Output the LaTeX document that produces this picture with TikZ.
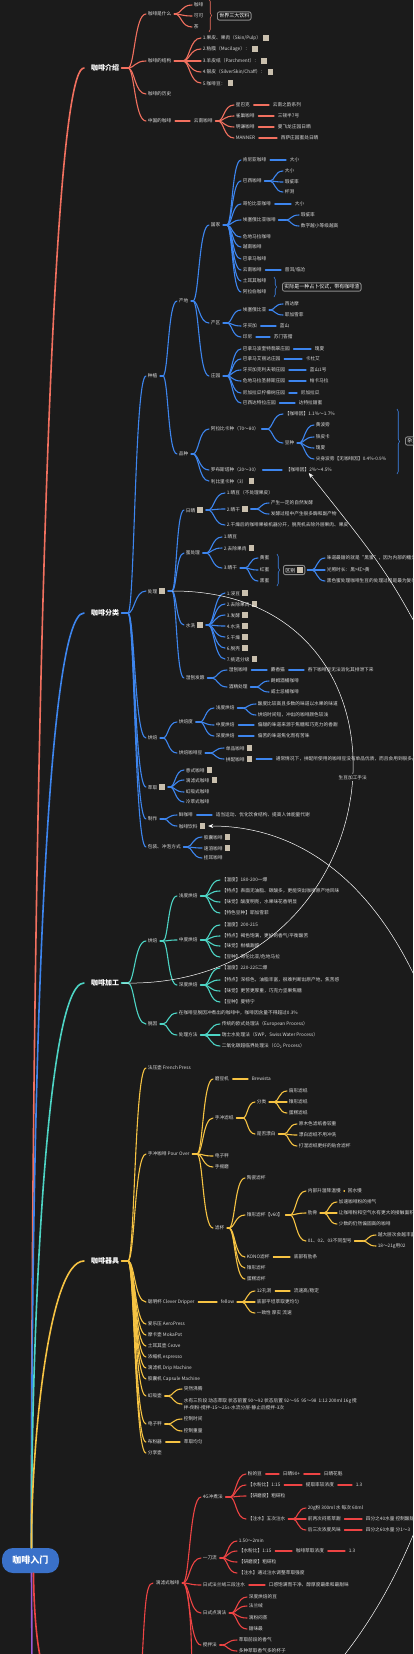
\documentclass[tikz,border=0pt]{standalone}
\usepackage{fontspec}
\setmainfont{Noto Sans CJK SC}
\usetikzlibrary{positioning,arrows.meta,decorations.pathreplacing}
\definecolor{bg}{HTML}{1B1B1B}
\definecolor{salm}{HTML}{F2705F}
\definecolor{blu}{HTML}{3D85EE}
\definecolor{tea}{HTML}{4DD4C4}
\definecolor{yel}{HTML}{F6C343}
\definecolor{rd}{HTML}{EE4444}
\definecolor{pur}{HTML}{9B5BD6}
\definecolor{txtc}{HTML}{DADADA}
\definecolor{sqc}{HTML}{C9BFAD}
\definecolor{boxc}{HTML}{8A8A8A}
\definecolor{rootc}{HTML}{3A71C9}
\newcommand\chip{\hspace{2.2pt}\textcolor{sqc}{\rule[-0.8pt]{5.6pt}{5.6pt}}}
\tikzset{
  leaf/.style={anchor=west,inner sep=0.6pt,text=txtc,font=\fontsize{4.7}{5.4}\selectfont},
  head/.style={anchor=west,inner sep=0pt,text=white,font=\bfseries\fontsize{7}{8}\selectfont},
  root/.style={fill=rootc,rounded corners=11pt,minimum width=57pt,minimum height=25pt,
    inner sep=0pt,text=white,font=\bfseries\fontsize{9}{10}\selectfont},
  cbox/.style={anchor=west,draw=boxc,line width=0.9pt,rounded corners=2pt,fill=bg,
    text=white,inner sep=1.8pt,font=\fontsize{5}{6}\selectfont},
  lk/.style={line width=1.1pt,line cap=round},
  lk1/.style={line width=1.6pt,line cap=round},
  rel/.style={draw=white,line width=0.5pt},
  lab/.style={fill=bg,text=txtc,inner sep=1pt,font=\fontsize{4.7}{5.4}\selectfont},
  brc/.style={line width=0.6pt,decorate,decoration={brace,amplitude=2.5pt}},
}
% fan: [junction offset]{colour}{parent}{children}
\newcommand\fan[4][15]{%
  \foreach \kid [count=\n] in {#4}{%
    \ifnum\n=1\relax
      \path (\kid.west) ++(-#1,0) coordinate (fx);
      \draw[lk,#2] ([xshift=2pt]#3.east) -- (fx |- #3.east) coordinate (fj);
    \fi
    \draw[lk,#2] (fj) .. controls +({0.35*#1},0) and +({-0.6*#1},0) .. ([xshift=-1pt]\kid.west);}}
\newcommand\lnk[3]{\draw[lk,#1] ([xshift=3pt]#2.east) -- ([xshift=-3pt]#3.west);}

\begin{document}
\begin{tikzpicture}[x=1pt,y=-1pt]
\fill[bg] (0,0) rectangle (413,1654);
\useasboundingbox (0,0) rectangle (413,1654);
\clip (0,0) rectangle (413,1654);

\node[root] (R) at (30.5,1560.5) {咖啡入门};
\node[head] (A) at (91,68) {咖啡介绍};
\node[head] (B) at (91,613) {咖啡分类};
\node[head] (C) at (91,983) {咖啡加工};
\node[head] (D) at (91,1261) {咖啡器具};
\coordinate (Ro) at (42,1665);
\coordinate (Po) at (32,1665);
\draw[lk1,salm] ([xshift=1pt]R.north) .. controls (31,1000) and (45,68) .. ([xshift=-7pt]A.west);
\draw[lk1,blu] ([xshift=1pt]R.north) .. controls (31,1100) and (45,613) .. ([xshift=-7pt]B.west);
\draw[lk1,tea] ([xshift=1pt]R.north) .. controls (31,1350) and (45,983) .. ([xshift=-7pt]C.west);
\draw[lk1,yel] ([xshift=1pt]R.north) .. controls (31,1450) and (48,1261) .. ([xshift=-7pt]D.west);
\draw[lk1,pur] ([xshift=1pt]R.south) -- (Po);
\draw[lk1,rd] ([xshift=3pt]R.south) .. controls (34,1620) and (38,1650) .. (Ro);

% 咖啡介绍
\node[leaf] (a1) at (147,14) {咖啡是什么};
\node[leaf] (a2) at (147,61) {咖啡的结构};
\node[leaf] (a3) at (147,94) {咖啡的历史};
\node[leaf] (a4) at (147,121) {中国的咖啡};
\node[leaf] (a11) at (193,5) {咖啡};
\node[leaf] (a12) at (193,16) {可可};
\node[leaf] (a13) at (193,27) {茶};
\node[cbox] (a1x) at (217,16) {世界三大饮料};
\node[leaf] (a21) at (202,38) {1.果皮、果肉（Skin/Pulp）\chip};
\node[leaf] (a22) at (202,49) {2.粘膜（Mucilage）：\chip};
\node[leaf] (a23) at (202,61) {3.羊皮纸（Parchment）：\chip};
\node[leaf] (a24) at (202,72) {4.银皮（SilverSkin/Chaff）：\chip};
\node[leaf] (a25) at (202,83) {5.咖啡豆：\chip};
\node[leaf] (a41) at (193,121) {云南咖啡};
\node[leaf] (a411) at (235,105) {星巴克};
\node[leaf] (a412) at (235,116) {雀巢咖啡};
\node[leaf] (a413) at (235,127) {明谦咖啡};
\node[leaf] (a414) at (235,138) {MANNER};
\node[leaf] (a415) at (272,105) {云南之韵系列};
\node[leaf] (a416) at (277,116) {三顿半7号};
\node[leaf] (a417) at (277,127) {曼飞龙庄园日晒};
\node[leaf] (a418) at (280,138) {西萨庄园蜜处日晒};
\fan[19]{salm}{A}{a1,a2,a3,a4}
\fan[18]{salm}{a1}{a11,a12,a13}
\fan[19]{salm}{a2}{a21,a22,a23,a24,a25}
\lnk{salm}{a4}{a41}
\fan[17]{salm}{a41}{a411,a412,a413,a414}
\lnk{salm}{a411}{a415}
\lnk{salm}{a412}{a416}
\lnk{salm}{a413}{a417}
\lnk{salm}{a414}{a418}
\draw[salm,brc] (209,-1) -- (209,32);

% 咖啡分类
\node[leaf] (b1) at (147,376) {种植};
\node[leaf] (b2) at (147,591) {处理\chip};
\node[leaf] (b3) at (147,738) {烘焙};
\node[leaf] (b4) at (147,787) {萃取\chip};
\node[leaf] (b5) at (147,819) {制作};
\node[leaf] (b6) at (147,847) {包装、冲泡方式};
\fan[19]{blu}{B}{b1,b2,b3,b4,b5,b6}
\node[leaf] (b11) at (178,301) {产地};
\node[leaf] (b12) at (178,454) {品种};
\fan{blu}{b1}{b11,b12}
\node[leaf] (b111) at (210,225) {国家};
\node[leaf] (b112) at (210,323) {产区};
\node[leaf] (b113) at (210,376) {庄园};
\fan[17]{blu}{b11}{b111,b112,b113}
\node[leaf] (g1) at (242,160) {肯尼亚咖啡};
\node[leaf] (g2) at (242,181) {巴西咖啡};
\node[leaf] (g3) at (242,204) {哥伦比亚咖啡};
\node[leaf] (g4) at (242,220) {埃塞俄比亚咖啡};
\node[leaf] (g5) at (242,237) {危地马拉咖啡};
\node[leaf] (g6) at (242,247) {越南咖啡};
\node[leaf] (g7) at (242,259) {巴拿马咖啡};
\node[leaf] (g8) at (242,270) {云南咖啡};
\node[leaf] (g9) at (242,281) {土耳其咖啡};
\node[leaf] (g10) at (242,292) {阿拉伯咖啡};
\fan{blu}{b111}{g1,g2,g3,g4,g5,g6,g7,g8,g9,g10}
\node[leaf] (g1a) at (289,160) {大小};
\node[leaf] (g2a) at (284,171) {大小};
\node[leaf] (g2b) at (284,182) {瑕疵率};
\node[leaf] (g2c) at (284,192) {杯测};
\node[leaf] (g3a) at (294,204) {大小};
\node[leaf] (g4a) at (300,215) {瑕疵率};
\node[leaf] (g4b) at (300,226) {数字越小等级越高};
\node[leaf] (g8a) at (284,270) {普洱/临沧};
\node[cbox] (g9x) at (282,287) {实际是一种占卜仪式，带有咖啡渣};
\lnk{blu}{g1}{g1a}
\fan[14]{blu}{g2}{g2a,g2b,g2c}
\lnk{blu}{g3}{g3a}
\fan[14]{blu}{g4}{g4a,g4b}
\lnk{blu}{g8}{g8a}
\draw[blu,brc] (274,277) -- (274,297);
\node[leaf] (q1) at (242,310) {埃塞俄比亚};
\node[leaf] (q2) at (242,326) {牙买加};
\node[leaf] (q3) at (242,337) {印尼};
\fan{blu}{b112}{q1,q2,q3}
\node[leaf] (q1a) at (284,304) {西达摩};
\node[leaf] (q1b) at (284,315) {耶加雪菲};
\node[leaf] (q2a) at (279,326) {蓝山};
\node[leaf] (q3a) at (273,337) {苏门答腊};
\fan[14]{blu}{q1}{q1a,q1b}
\lnk{blu}{q2}{q2a}
\lnk{blu}{q3}{q3a}
\node[leaf] (z1) at (242,349) {巴拿马波奎特翡翠庄园};
\node[leaf] (z2) at (242,359) {巴拿马艾丽达庄园};
\node[leaf] (z3) at (242,370) {牙买加克利夫顿庄园};
\node[leaf] (z4) at (242,381) {危地马拉圣赫斯庄园};
\node[leaf] (z5) at (242,393) {尼加拉瓜柠檬树庄园};
\node[leaf] (z6) at (242,403) {巴西达特拉庄园};
\fan{blu}{b113}{z1,z2,z3,z4,z5,z6}
\node[leaf] (z1a) at (314,349) {瑰夏};
\node[leaf] (z2a) at (305,359) {卡杜艾};
\node[leaf] (z3a) at (309,370) {蓝山1号};
\node[leaf] (z4a) at (309,381) {帕卡马拉};
\node[leaf] (z5a) at (300,393) {尼加拉瓜};
\node[leaf] (z6a) at (298,403) {达特拉甜蜜};
\lnk{blu}{z1}{z1a}
\lnk{blu}{z2}{z2a}
\lnk{blu}{z3}{z3a}
\lnk{blu}{z4}{z4a}
\lnk{blu}{z5}{z5a}
\lnk{blu}{z6}{z6a}
\node[leaf] (p1) at (210,429) {阿拉比卡种（70～80）};
\node[leaf] (p2) at (210,470) {罗布斯塔种（20～30）};
\node[leaf] (p3) at (210,481) {利比里卡种（3）\chip};
\fan[17]{blu}{b12}{p1,p2,p3}
\node[leaf] (p1a) at (284,414) {【咖啡因】1.1\%～1.7\%};
\node[leaf] (p1b) at (284,443) {豆种};
\fan[17]{blu}{p1}{p1a,p1b}
\node[leaf] (p1b1) at (315,425) {黄波旁};
\node[leaf] (p1b2) at (315,437) {铁皮卡};
\node[leaf] (p1b3) at (315,448) {瑰夏};
\node[leaf] (p1b4) at (315,459) {尖身波旁【无咖啡因】0.4\%-0.9\%};
\fan[16]{blu}{p1b}{p1b1,p1b2,p1b3,p1b4}
\draw[blu,brc] (397,409) -- (397,474);
\node[cbox] (p1x) at (405,441) {杂交种};
\node[leaf] (p2a) at (285,470) {【咖啡因】2\%～4.5\%};
\lnk{blu}{p2}{p2a}
% 处理
\node[leaf] (h1) at (185,510) {日晒\chip};
\node[leaf] (h2) at (185,553) {蜜处理};
\node[leaf] (h3) at (185,625) {水洗\chip};
\node[leaf] (h4) at (185,678) {湿刨发酵};
\fan[13]{blu}{b2}{h1,h2,h3,h4}
\node[leaf] (h11) at (226,493) {1.晒豆（不处理果皮）};
\node[leaf] (h12) at (226,509) {2.晒干\chip};
\node[leaf] (h13) at (226,525) {2.干燥后的咖啡果被机器分开，脱壳机去除外层果肉、果皮};
\fan[18]{blu}{h1}{h11,h12,h13}
\node[leaf] (h12a) at (270,503) {产生一定的自然发酵};
\node[leaf] (h12b) at (270,514) {发酵过程中产生很多酶和副产物};
\fan[14]{blu}{h12}{h12a,h12b}
\node[leaf] (h21) at (223,537) {1.晒豆};
\node[leaf] (h22) at (223,548) {2.去除果肉\chip};
\node[leaf] (h23) at (223,568) {3.晒干};
\fan[17]{blu}{h2}{h21,h22,h23}
\node[leaf] (h23a) at (259,558) {黄蜜};
\node[leaf] (h23b) at (259,570) {红蜜};
\node[leaf] (h23c) at (259,581) {黑蜜};
\fan[14]{blu}{h23}{h23a,h23b,h23c}
\draw[blu,brc] (277,554) -- (277,586);
\node[cbox] (h2x) at (283,570) {区别\chip};
\node[leaf] (h2x1) at (326,558) {味道最甜的就是“黑蜜”，因为内部的糖分最多};
\node[leaf] (h2x2) at (326,570) {光照时长：黑>红>黄};
\node[leaf] (h2x3) at (326,581) {黑色蜜处理咖啡生豆的处理过程是最为复杂的};
\fan[14]{blu}{h2x}{h2x1,h2x2,h2x3}
\node[leaf] (h31) at (226,593) {1.浸豆\chip};
\node[leaf] (h32) at (226,604) {2.去除果肉\chip};
\node[leaf] (h33) at (226,615) {3.发酵\chip};
\node[leaf] (h34) at (226,626) {4.水洗\chip};
\node[leaf] (h35) at (226,637) {5.干燥\chip};
\node[leaf] (h36) at (226,648) {6.脱壳\chip};
\node[leaf] (h37) at (226,659) {7.挑选分级\chip};
\fan[18]{blu}{h3}{h31,h32,h33,h34,h35,h36,h37}
\node[leaf] (h41) at (228,670) {湿刨咖啡};
\node[leaf] (h42) at (228,687) {酒精处理};
\fan[16]{blu}{h4}{h41,h42}
\node[leaf] (h41a) at (270,670) {麝香猫};
\node[leaf] (h41b) at (307,670) {吞下咖啡豆无法消化其排泄下来};
\lnk{blu}{h41}{h41a}
\lnk{blu}{h41a}{h41b}
\node[leaf] (h42a) at (270,681) {朗姆酒桶咖啡};
\node[leaf] (h42b) at (270,692) {威士忌桶咖啡};
\fan[14]{blu}{h42}{h42a,h42b}
% 烘焙
\node[leaf] (o1) at (178,722) {烘焙度};
\node[leaf] (o2) at (178,753) {烘焙咖啡豆};
\fan{blu}{b3}{o1,o2}
\node[leaf] (o11) at (215,708) {浅度烘焙};
\node[leaf] (o12) at (215,725) {中度烘焙};
\node[leaf] (o13) at (215,736) {深度烘焙};
\fan[15]{blu}{o1}{o11,o12,o13}
\node[leaf] (o11a) at (257,704) {酸度比较高且多数的味道以水果的味道};
\node[leaf] (o11b) at (257,715) {烘焙时间短，冲出的咖啡颜色较浅};
\fan[14]{blu}{o11}{o11a,o11b}
\node[leaf] (o12a) at (257,725) {偏甜的味道来源于焦糖和巧克力的香甜};
\node[leaf] (o13a) at (257,736) {偏苦的味道焦化而有苦味};
\lnk{blu}{o12}{o12a}
\lnk{blu}{o13}{o13a}
\node[leaf] (o21) at (225,748) {单品咖啡\chip};
\node[leaf] (o22) at (225,759) {拼配咖啡\chip};
\fan[15]{blu}{o2}{o21,o22}
\node[leaf] (o22a) at (275,759) {通常情况下，拼配所使用的咖啡豆没有单品优质，而且会用到很多品种};
\lnk{blu}{o22}{o22a}
% 萃取 / 制作 / 包装
\node[leaf] (e1) at (185,770) {意式咖啡\chip};
\node[leaf] (e2) at (185,780) {滴滤式咖啡\chip};
\node[leaf] (e3) at (185,792) {虹吸式咖啡};
\node[leaf] (e4) at (185,802) {冷萃式咖啡};
\fan[15]{blu}{b4}{e1,e2,e3,e4}
\node[leaf] (f1) at (178,815) {鲜咖啡};
\node[leaf] (f2) at (178,826) {咖啡饮料\chip};
\fan[14]{blu}{b5}{f1,f2}
\node[leaf] (f1a) at (215,815) {适当运动、优化饮食结构、提高人体能量代谢};
\lnk{blu}{f1}{f1a}
\node[leaf] (v1) at (203,837) {胶囊咖啡\chip};
\node[leaf] (v2) at (203,848) {速溶咖啡\chip};
\node[leaf] (v3) at (203,858) {挂耳咖啡};
\fan[16]{blu}{b6}{v1,v2,v3}

% 咖啡加工
\node[leaf] (c1) at (147,941) {烘焙};
\node[leaf] (c2) at (147,1024) {脱因};
\fan[19]{tea}{C}{c1,c2}
\node[leaf] (c11) at (178,896) {浅度烘焙};
\node[leaf] (c12) at (178,940) {中度烘焙};
\node[leaf] (c13) at (178,985) {深度烘焙};
\fan{tea}{c1}{c11,c12,c13}
\node[leaf] (c11a) at (221,880) {【温度】180-200一爆};
\node[leaf] (c11b) at (221,891) {【特点】表面无油脂、碳酸多，更能突出咖啡原产地风味};
\node[leaf] (c11c) at (221,902) {【味觉】酸度明亮，水果味花香明显};
\node[leaf] (c11d) at (221,913) {【特色豆种】耶加雪菲};
\fan[17]{tea}{c11}{c11a,c11b,c11c,c11d}
\node[leaf] (c12a) at (221,925) {【温度】200-215};
\node[leaf] (c12b) at (221,936) {【特点】褐色饱满，更好的香气/平衡酸苦};
\node[leaf] (c12c) at (221,946) {【味觉】柑橘甜感};
\node[leaf] (c12d) at (221,957) {【豆种】哥伦比亚/危地马拉};
\fan[17]{tea}{c12}{c12a,c12b,c12c,c12d}
\node[leaf] (c13a) at (221,968) {【温度】220-225二爆};
\node[leaf] (c13b) at (221,980) {【特点】深棕色，油脂丰富，很难判断出原产地，焦苦感};
\node[leaf] (c13c) at (221,991) {【味觉】更苦更厚重，巧克力坚果焦糖};
\node[leaf] (c13d) at (221,1002) {【豆种】曼特宁};
\fan[17]{tea}{c13}{c13a,c13b,c13c,c13d}
\node[leaf] (c21) at (178,1013) {在咖啡豆脱因冲煮出的咖啡中，咖啡因含量不得超过0.3\%};
\node[leaf] (c22) at (178,1035) {处理方法};
\fan{tea}{c2}{c21,c22}
\node[leaf] (c22a) at (221,1024) {传统的欧式处理法（European Process）};
\node[leaf] (c22b) at (221,1035) {瑞士水处理法（SWP，Swiss Water Process）};
\node[leaf] (c22c) at (221,1046) {二氧化碳超临界处理法（CO\textsubscript{2} Process）};
\fan[17]{tea}{c22}{c22a,c22b,c22c}

% 咖啡器具
\node[leaf] (d1) at (147,1068) {法压壶 French Press};
\node[leaf] (d2) at (147,1154) {手冲咖啡 Pour Over};
\node[leaf] (d3) at (147,1302) {聪明杯 Clever Dripper};
\node[leaf] (d4) at (147,1324) {爱乐压 AeroPress};
\node[leaf] (d5) at (147,1335) {摩卡壶 MokaPot};
\node[leaf] (d6) at (147,1346) {土耳其壶 Cezve};
\node[leaf] (d7) at (147,1357) {浓缩机 espresso};
\node[leaf] (d8) at (147,1368) {滴滤机 Drip Machine};
\node[leaf] (d9) at (147,1379) {胶囊机 Capsule Machine};
\node[leaf] (d10) at (147,1396) {虹吸壶};
\node[leaf] (d11) at (147,1424) {电子秤};
\node[leaf] (d12) at (147,1442) {布粉器};
\node[leaf] (d13) at (147,1453) {分享壶};
\fan[19]{yel}{D}{d1,d2,d3,d4,d5,d6,d7,d8,d9,d10,d11,d12,d13}
\node[leaf] (d21) at (214,1079) {磨豆机};
\node[leaf] (d22) at (214,1118) {手冲滤纸};
\node[leaf] (d23) at (214,1156) {电子秤};
\node[leaf] (d24) at (214,1167) {手摇磨};
\node[leaf] (d25) at (214,1228) {滤杯};
\fan[17]{yel}{d2}{d21,d22,d23,d24,d25}
\node[leaf] (d21a) at (251,1079) {Brewista};
\lnk{yel}{d21}{d21a}
\node[leaf] (d221) at (256,1102) {分类};
\node[leaf] (d222) at (256,1134) {是否漂白};
\fan[13]{yel}{d22}{d221,d222}
\node[leaf] (d221a) at (288,1091) {扇形滤纸};
\node[leaf] (d221b) at (288,1102) {锥形滤纸};
\node[leaf] (d221c) at (288,1113) {蛋糕滤纸};
\fan[14]{yel}{d221}{d221a,d221b,d221c}
\node[leaf] (d222a) at (298,1124) {原木色滤纸香较重};
\node[leaf] (d222b) at (298,1135) {漂白滤纸不用冲洗};
\node[leaf] (d222c) at (298,1146) {打湿滤纸更好的贴合滤杯};
\fan[14]{yel}{d222}{d222a,d222b,d222c}
\node[leaf] (d251) at (246,1178) {陶瓷滤杯};
\node[leaf] (d252) at (246,1215) {锥形滤杯【v60】};
\node[leaf] (d253) at (246,1257) {KONO滤杯};
\node[leaf] (d254) at (246,1268) {锥形滤杯};
\node[leaf] (d255) at (246,1279) {蛋糕滤杯};
\fan[17]{yel}{d25}{d251,d252,d253,d254,d255}
\node[leaf] (d2521) at (307,1191) {内部升温降温慢};
\node[leaf] (d2522) at (307,1213) {肋骨};
\node[leaf] (d2523) at (307,1241) {01、02、03不同型号};
\fan[17]{yel}{d252}{d2521,d2522,d2523}
\node[leaf] (d2521a) at (347,1191) {回水慢};
\lnk{yel}{d2521}{d2521a}
\node[leaf] (d2522a) at (338,1202) {加速咖啡粉的排气};
\node[leaf] (d2522b) at (338,1213) {让咖啡粉和空气水有更大的接触面积};
\node[leaf] (d2522c) at (338,1224) {少数的仍然偏固高的咖啡};
\fan[14]{yel}{d2522}{d2522a,d2522b,d2522c}
\node[leaf] (d2523a) at (377,1235) {越大层次会越丰富};
\node[leaf] (d2523b) at (377,1246) {18～21g用02};
\fan[14]{yel}{d2523}{d2523a,d2523b}
\node[leaf] (d253a) at (293,1257) {底部有肋条};
\lnk{yel}{d253}{d253a}
\node[leaf] (d31) at (220,1302) {fellow};
\lnk{yel}{d3}{d31}
\node[leaf] (d311) at (256,1291) {12孔洞};
\node[leaf] (d312) at (256,1302) {底部平坦萃取更均匀};
\node[leaf] (d313) at (256,1313) {一致性 厚实 流速};
\fan[14]{yel}{d31}{d311,d312,d313}
\node[leaf] (d311a) at (293,1291) {流速高/稳定};
\lnk{yel}{d311}{d311a}
\node[leaf] (d101) at (183,1389) {突然沸腾};
\node[leaf,align=left,font=\fontsize{4.7}{7}\selectfont] (d102) at (183,1404)
  {水有三阶段 动态萃取 状态前置 90～92 状态后置 92～95\ \ 95～98\ \ 1:12 200ml 16g 搅\\拌-倒粉-搅拌-15～25s-水流分层-静止后搅拌-3次};
\fan[15]{yel}{d10}{d101,d102}
\node[leaf] (d111) at (183,1419) {控制时间};
\node[leaf] (d112) at (183,1431) {控制重量};
\fan[15]{yel}{d11}{d111,d112}
\node[leaf] (d121) at (183,1442) {萃取均匀};
\lnk{yel}{d12}{d121}

% 滴滤式咖啡
\coordinate (Eo) at (141,1680);
\coordinate (E1o) at (192,1680);
\node[leaf] (E1) at (155,1583) {滴滤式咖啡};
\draw[lk,rd] (Eo) .. controls (145,1610) and (145,1583) .. ([xshift=-2pt]E1.west);
\node[leaf] (E11) at (202,1497) {4G冲煮法};
\node[leaf] (E12) at (202,1558) {一刀流};
\node[leaf] (E13) at (202,1585) {日式法兰绒三段注水};
\node[leaf] (E14) at (202,1613) {日式点滴法};
\node[leaf] (E15) at (202,1645) {搅拌法};
\fan[19]{rd}{E1}{E11,E12,E13,E14,E15}
\draw[lk,rd] (fj) .. controls +(6.6,0) and +(0,-40) .. (E1o);
\node[leaf] (E111) at (247,1474) {粉的豆};
\node[leaf] (E112) at (247,1485) {【水粉比】1:15};
\node[leaf] (E113) at (247,1496) {【研磨度】粗研粒};
\node[leaf] (E114) at (247,1519) {【注水】五次注水};
\fan[17]{rd}{E11}{E111,E112,E113,E114}
\node[leaf] (E111a) at (282,1474) {日晒90+};
\node[leaf] (E111b) at (323,1474) {日晒花魁};
\lnk{rd}{E111}{E111a}
\lnk{rd}{E111a}{E111b}
\node[leaf] (E112a) at (305,1485) {提取率较浓度};
\node[leaf] (E112b) at (355,1485) {1.3};
\lnk{rd}{E112}{E112a}
\lnk{rd}{E112a}{E112b}
\node[leaf] (E1141) at (307,1508) {20g粉 300ml 水 每次 60ml};
\node[leaf] (E1142) at (307,1519) {前两次闷蒸萃甜};
\node[leaf] (E1143) at (307,1530) {后三次浓度风味};
\fan[14]{rd}{E114}{E1141,E1142,E1143}
\node[leaf] (E1142a) at (365,1519) {四分之40水量 控制酸甜};
\node[leaf] (E1143a) at (365,1530) {四分之60水量 分1～3};
\lnk{rd}{E1142}{E1142a}
\lnk{rd}{E1143}{E1143a}
\node[leaf] (E121) at (238,1541) {1.50～2min};
\node[leaf] (E122) at (238,1551) {【水粉比】1:15};
\node[leaf] (E123) at (238,1562) {【研磨度】粗研粒};
\node[leaf] (E124) at (238,1573) {【注水】通过注水调整萃取强度};
\fan[16]{rd}{E12}{E121,E122,E123,E124}
\node[leaf] (E122a) at (295,1551) {咖啡萃取浓度};
\node[leaf] (E122b) at (348,1551) {1.3};
\lnk{rd}{E122}{E122a}
\lnk{rd}{E122a}{E122b}
\node[leaf] (E131) at (268,1585) {口感饱满而干净、醇厚度最柔和最甜味};
\lnk{rd}{E13}{E131}
\node[leaf] (E141) at (248,1597) {深度烘焙的豆};
\node[leaf] (E142) at (248,1606) {法兰绒};
\node[leaf] (E143) at (248,1618) {滴粉闷蒸};
\node[leaf] (E144) at (248,1629) {甜味最};
\fan[17]{rd}{E14}{E141,E142,E143,E144}
\node[leaf] (E151) at (238,1640) {萃取前段的香气};
\node[leaf] (E152) at (238,1651) {多种萃取香气多的杯子};
\fan[16]{rd}{E15}{E151,E152}

% relationships
\coordinate (r1o) at (445,680);
\coordinate (r3o) at (280,1720);
\draw[rel,-{Stealth[length=5pt,width=4pt]}] (r1o) .. controls (390,575) .. (p2a.south);
\draw[rel] ([xshift=6pt]b2.east) .. controls (440,590) and (400,990) .. ([xshift=3pt]C.east)
  node[lab,pos=0.48] {生豆加工手法};
\draw[rel,-{Stealth[length=5pt,width=4pt]}] (r3o) .. controls (560,1500) and (520,826) .. ([xshift=2pt]f2.east);
\end{tikzpicture}
\end{document}
